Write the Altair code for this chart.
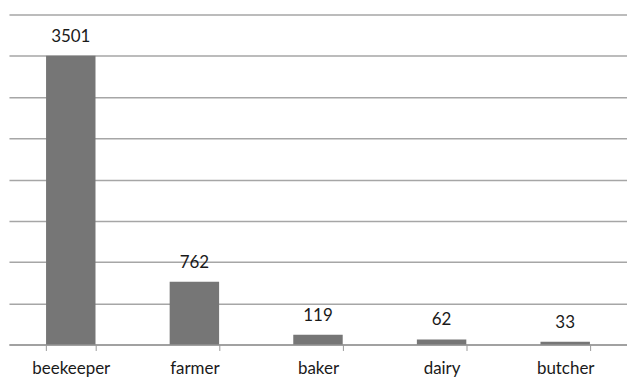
import altair as alt
import pandas as pd

categories = ["beekeeper", "farmer", "baker", "dairy", "butcher"]
values = [3501, 762, 119, 62, 33]

df = pd.DataFrame({"cat": categories, "val": values})

xenc = alt.X("cat:N", sort=categories, title=None,
             scale=alt.Scale(paddingInner=0.6, paddingOuter=0.3),
             axis=alt.Axis(labelAngle=0, labelFont="Lato", labelFontSize=17,
                           labelColor="#1a1a1a", labelPadding=10,
                           tickBand="extent", tickSize=6, tickColor="#999999",
                           tickWidth=1, domainColor="#999999", domainWidth=1.5,
                           grid=False))
yenc = alt.Y("val:Q", title=None,
             scale=alt.Scale(domain=[0, 4000], nice=False),
             axis=alt.Axis(values=list(range(0, 4001, 500)), labels=False, ticks=False,
                           domain=False, grid=True, gridColor="#a6a6a6", gridWidth=1.5))

base = alt.Chart(df).encode(x=xenc, y=yenc)
bars = base.mark_bar(color="#767676")
text = base.mark_text(font="Lato", fontSize=17, color="#1a1a1a",
                      baseline="bottom", dy=-10).encode(text="val:Q")

chart = (bars + text).properties(
    width=620, height=331,
    padding={"left": 9, "top": 14, "right": 0, "bottom": 32},
    autosize=alt.AutoSizeParams(type="none"),
    background="white",
).configure_view(stroke=None)

chart.save("out.html", embed_options={"renderer": "svg", "actions": False})
